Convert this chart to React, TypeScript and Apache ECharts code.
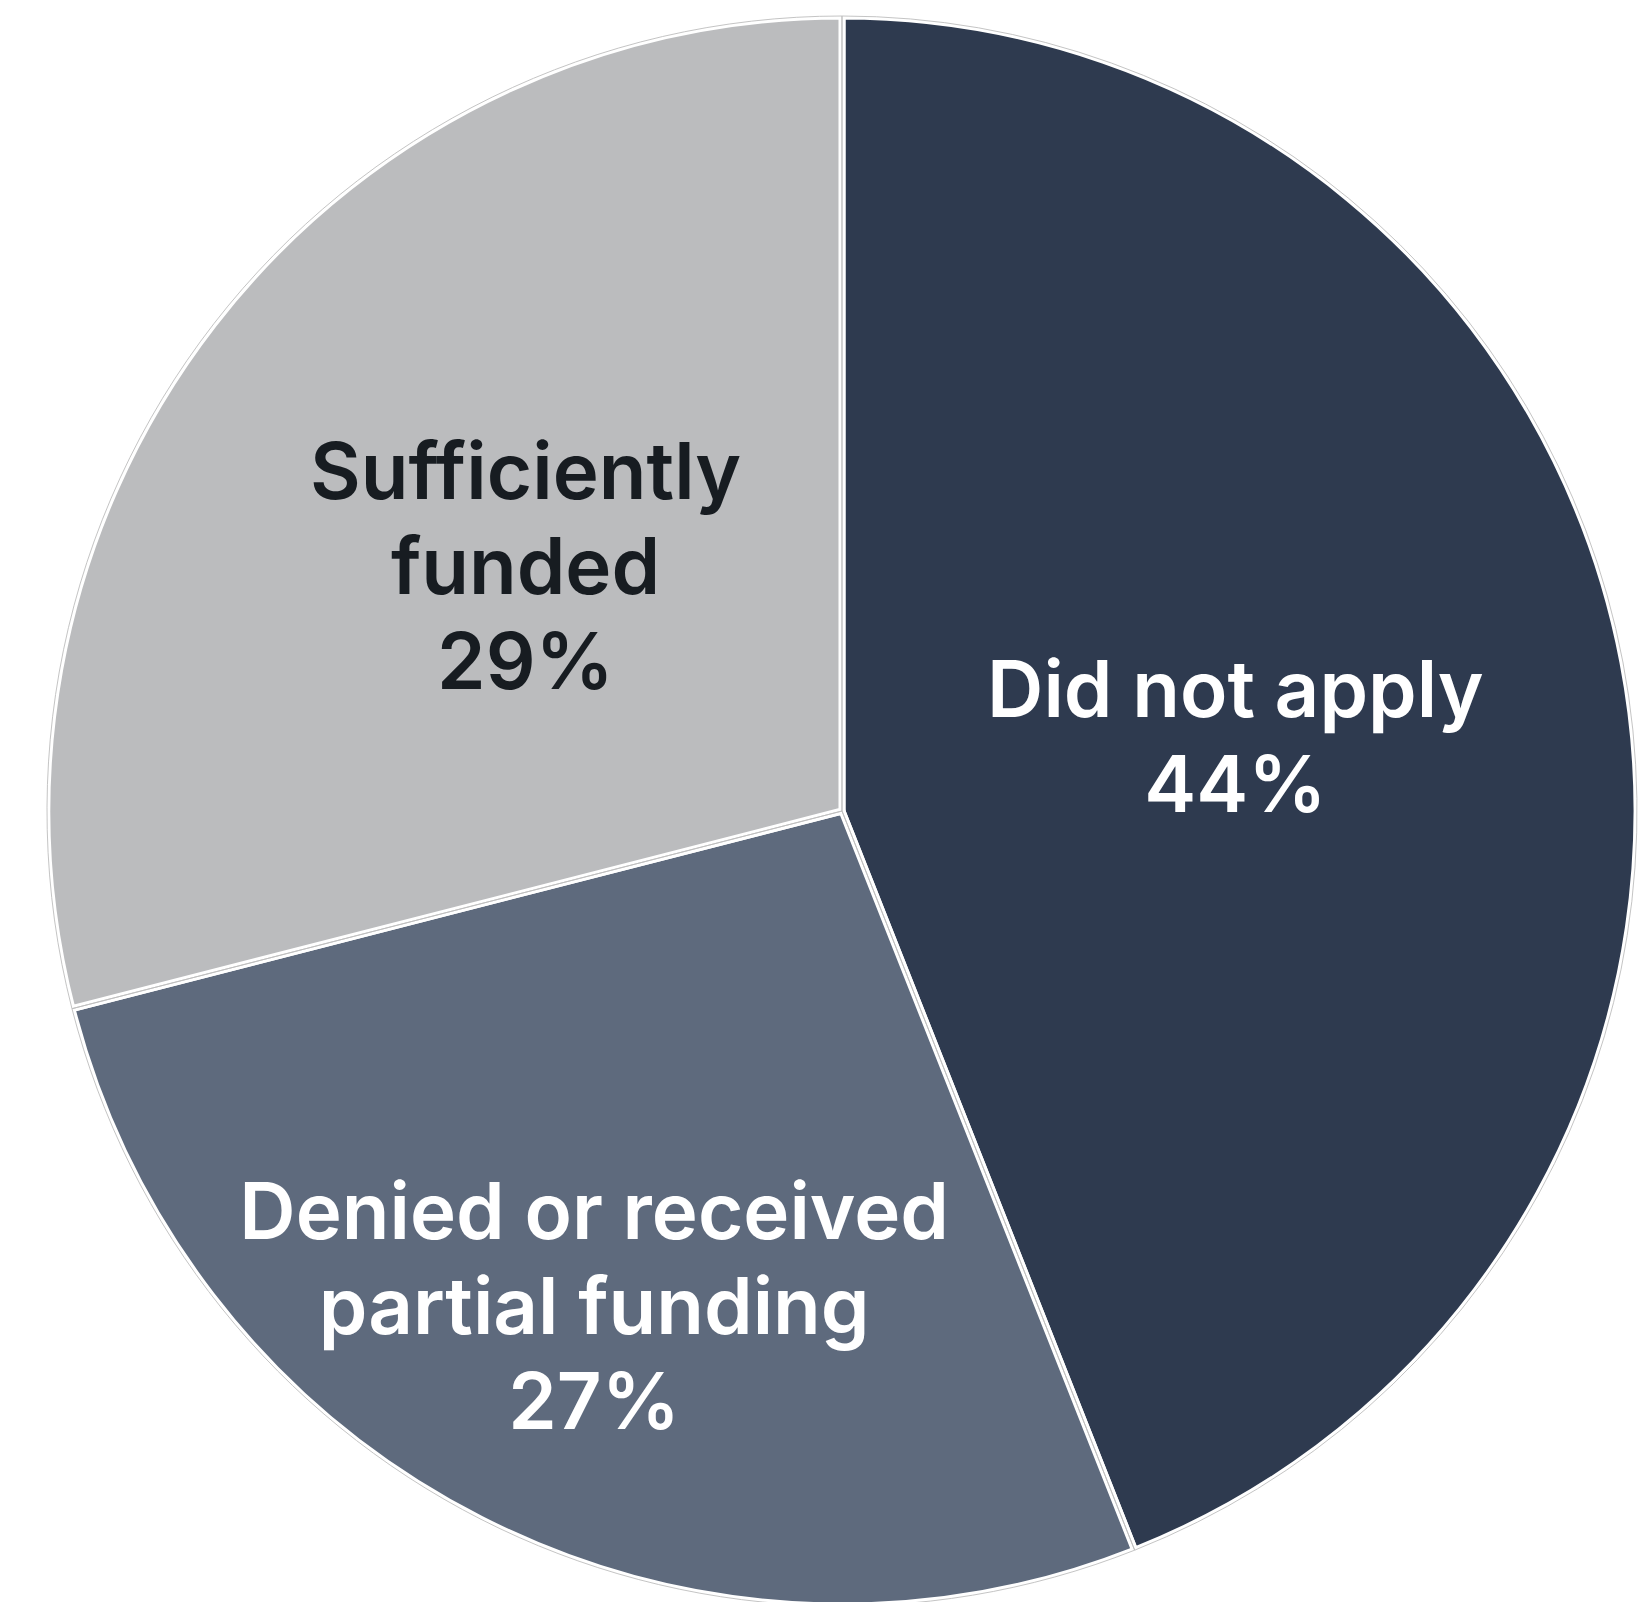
import React, { useEffect, useRef } from "react";
import * as echarts from "echarts";

const categories = ["Did not apply", "Denied or received\npartial funding", "Sufficiently\nfunded"];
const values = [44, 27, 29];
const colors = ["#2E3A4F", "#5E6A7D", "#BBBCBE"];
const labelColors = ["#FFFFFF", "#FFFFFF", "#171C21"];
const labelOffsets = [[0, 0], [-66, 138], [0, 0]];

export default function App() {
  const ref = useRef<HTMLDivElement>(null);
  useEffect(() => {
    document.body.style.margin = "0";
    const chart = echarts.init(ref.current!, undefined, { renderer: "svg" });
    const data = categories.map((name, i) => ({
      name,
      value: values[i],
      itemStyle: { color: colors[i] },
      label: { color: labelColors[i], offset: labelOffsets[i] },
    }));
    chart.setOption({
      animation: false,
      series: [
        {
          type: "pie",
          center: [842, 811],
          radius: [0, 795],
          startAngle: 90,
          clockwise: true,
          avoidLabelOverlap: false,
          silent: true,
          itemStyle: { borderColor: "#FFFFFF", borderWidth: 7 },
          label: {
            show: true,
            position: "inside",
            formatter: "{b}\n{c}%",
            fontFamily: "Inter",
            fontWeight: 600,
            fontSize: 78,
            lineHeight: 95,
            align: "center",
          },
          labelLine: { show: false },
          data,
        },
        {
          type: "pie",
          center: [842, 811],
          radius: [0, 795],
          startAngle: 90,
          clockwise: true,
          silent: true,
          z: 3,
          itemStyle: { color: "rgba(0,0,0,0)", borderColor: "rgba(190,190,190,0.9)", borderWidth: 1 },
          label: { show: false },
          labelLine: { show: false },
          data: categories.map((name, i) => ({ name: name + " ", value: values[i] })),
        },
      ],
    });
    return () => chart.dispose();
  }, []);
  return <div ref={ref} style={{ width: 1639, height: 1602 }} />;
}
